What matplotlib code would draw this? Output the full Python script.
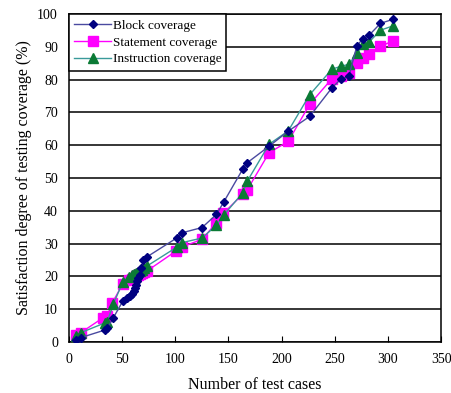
import matplotlib.pyplot as plt

plt.rcParams['font.family'] = ['Liberation Serif', 'DejaVu Serif']

block_x = [6.3, 11, 33.5, 36, 41.6, 50.7, 54.8, 57.5, 59.5, 61, 62, 63, 64, 65, 66.5, 68, 70, 73.6,
           101.8, 106.4, 125.2, 138.7, 145.6, 163.4, 167.8, 188.2, 206.3, 226.4,
           247.3, 255.8, 263.3, 270.8, 276.1, 282.4, 293, 304.6]
block_y = [0.5, 1.3, 3.6, 4.2, 7.3, 12.5, 13.4, 14, 14.5, 15.5, 16.5, 17.5, 18.5, 19.5, 20.5, 22.5, 25, 26,
           31.8, 33.3, 34.9, 38.9, 42.7, 52.7, 54.7, 59.7, 64.3, 68.8,
           77.5, 80.2, 81.1, 90.3, 92.4, 93.6, 97.2, 98.4]

stmt_x = [6.3, 11, 32.2, 36, 40.7, 50.7, 56.4, 59, 61, 63, 65, 67, 69, 71, 73.6,
          101, 106.4, 125.2, 138.4, 145, 163.4, 167.5, 188.2, 206.3, 226.4,
          247.3, 255.8, 263.3, 270.8, 277, 282.4, 293, 304.6]
stmt_y = [2.0, 2.8, 7.4, 7.9, 11.9, 17.8, 19, 19.3, 19.6, 20, 20.3, 20.6, 21, 21.3, 21.7,
          27.8, 29, 31.3, 36.3, 39.2, 45, 46.3, 57.7, 61.2, 72.5,
          80.3, 81.1, 82.1, 85.2, 86.5, 87.8, 90.2, 91.8]

inst_x = [6.3, 11, 33.8, 36, 41.6, 50.7, 56.4, 59, 61, 63, 65, 67, 69, 71, 73.6,
          101.8, 106.4, 125.2, 138.7, 145.6, 163.4, 167.8, 188.2, 206.3, 226.4,
          247.3, 255.8, 263.3, 270.8, 276.1, 282.4, 293, 304.6]
inst_y = [1.8, 2.8, 5.8, 6.1, 11.5, 18.3, 19.8, 20.3, 20.7, 21, 21.3, 21.7, 22, 22.5, 23.2,
          29, 30.3, 31.7, 35.6, 38.7, 45.5, 49.1, 60.3, 64.4, 75.4,
          83.2, 84.1, 84.7, 88, 90.8, 91.5, 95.1, 96.4]

fig = plt.figure(figsize=(4.51, 3.93), dpi=100)
ax = fig.add_axes([0.153, 0.130, 0.825, 0.834])

ax.plot(stmt_x, stmt_y, color='#ff00ff', lw=1, marker='s', ms=6.5, mfc='#ff00ff', mec='#ff00ff',
        label='Statement coverage', zorder=3)
ax.plot(inst_x, inst_y, color='#3a9a9a', lw=1, marker='^', ms=6.5, mfc='#0b7a35', mec='#0b7a35',
        label='Instruction coverage', zorder=4)
ax.plot(block_x, block_y, color='#4a4aa0', lw=1, marker='D', ms=4.5, mfc='#000080', mec='#000080',
        label='Block coverage', zorder=5)

ax.set_xlim(0, 350)
ax.set_ylim(0, 100)
ax.set_xticks(range(0, 351, 50))
ax.set_yticks(range(0, 101, 10))
ax.yaxis.grid(True, color='black', lw=1.1)
ax.set_axisbelow(True)
ax.tick_params(axis='x', direction='in', length=4, labelsize=10, pad=8)
ax.tick_params(axis='y', length=0, labelsize=10, pad=8)
for s in ax.spines.values():
    s.set_color('black')
    s.set_linewidth(1.1)

ax.set_xlabel('Number of test cases', fontsize=11.5, labelpad=8)
ax.set_ylabel('Satisfaction degree of testing coverage (%)', fontsize=11.5, labelpad=4)

h, l = ax.get_legend_handles_labels()
order = [2, 0, 1]
leg = ax.legend([h[i] for i in order], [l[i] for i in order], loc='upper left',
                bbox_to_anchor=(0, 1), borderaxespad=0, fancybox=False, framealpha=1,
                edgecolor='black', fontsize=9.5, handlelength=2.8, labelspacing=0.35,
                handletextpad=0.1, borderpad=0.4, handleheight=0.7)
leg.get_frame().set_linewidth(1.1)

fig.savefig('out.png', dpi=100)
